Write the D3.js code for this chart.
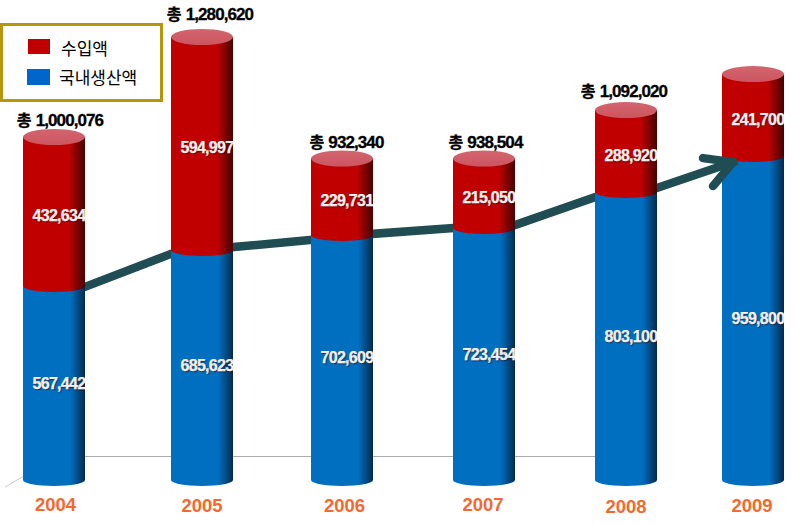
<!DOCTYPE html>
<html><head><meta charset="utf-8">
<style>html,body{margin:0;padding:0;background:#fff}svg{display:block}</style>
<script src="https://cdn.jsdelivr.net/npm/d3@7/dist/d3.min.js"></script></head>
<body><svg width="795" height="525"></svg>
<script>
const years = ["2004","2005","2006","2007","2008","2009"];
// Figures printed on the chart
const domesticLabels = [567442,685623,702609,723454,803100,959800];
const revenueLabels = [432634,594997,229731,215050,288920,241700];
const totalLabels = [1000076,1280620,932340,938504,1092020,null];
// The original columns are not quite to scale with their printed figures,
// so these are the heights, in the same units.
const domesticDrawn = [570600,676500,720600,741200,847000,953000];
const revenueDrawn = [438200,626400,225000,204400,241000,241000];
// Trend arrow: level leaving each column, level reaching the next
const trendFrom = [568000,685000,724000,750000,859000];
const trendTo = [665000,706000,741000,832000,935000];
const legendNames = ["수입액","국내생산액"];

const fmt = d3.format(",");
const svg = d3.select("svg");
const x = d3.scaleOrdinal().domain(years).range([54,202,342,484,626,753]);
const yearX = d3.scaleOrdinal().domain(years).range([55.5,202,344.5,483,626,752]);
const yearY = d3.scaleOrdinal().domain(years).range([511,512,512,511,513,512]);
const totalDx = d3.scaleOrdinal().domain(years).range([7,9,5.5,2.5,-1,0]);
const totalDy = d3.scaleOrdinal().domain(years).range([-11,-17,-10,-10,-13,0]);
const y = d3.scaleLinear().domain([0,1000000]).range([480,140]);
const W = 62, RT = 8, RB = 6;
const latin = "'Liberation Sans',Arial,sans-serif", cjk = "'Noto Sans CJK KR','Liberation Sans',sans-serif";

const defs = svg.append("defs");
function grad(id,c0,c1,o){
  const g = defs.append("linearGradient").attr("id",id);
  [[0,c0],[o,c0],[1,c1]].forEach(s=>g.append("stop").attr("offset",s[0]).attr("stop-color",s[1]));
}
grad("gb","#006FC0","#002A50",.76);
grad("gr","#C00000","#470000",.74);
const gt = defs.append("linearGradient").attr("id","gt").attr("x1",0).attr("x2",0).attr("y1",0).attr("y2",1);
gt.append("stop").attr("offset",0).attr("stop-color","#D2656E");
gt.append("stop").attr("offset",1).attr("stop-color","#CC5560");

// floor
svg.append("line").attr("x1",84).attr("x2",596).attr("y1",456.5).attr("y2",456.5).attr("stroke","#adadad");
svg.append("line").attr("x1",5).attr("y1",487).attr("x2",24).attr("y2",476).attr("stroke","#c8c8c8");

function body(g,cx,top,bot,fill){
  const l=cx-W/2,r=cx+W/2;
  g.append("path").attr("fill",fill)
   .attr("d",`M${l},${top}H${r}V${bot}A${W/2},${RB} 0 0 1 ${l},${bot}Z`);
}
function bar(i){
  const yr=years[i],cx=x(yr),g=svg.append("g");
  const b=y(0),m=y(domesticDrawn[i]),t=y(domesticDrawn[i]+revenueDrawn[i]);
  defs.append("clipPath").attr("id","c"+i).append("rect")
    .attr("x",cx-W/2).attr("y",0).attr("width",W).attr("height",525);
  body(g,cx,m-RT,b,"url(#gb)");
  body(g,cx,t,m,"url(#gr)");
  g.append("ellipse").attr("cx",cx).attr("cy",t).attr("rx",W/2).attr("ry",RT).attr("fill","url(#gt)");
  const lg=g.append("g").attr("clip-path",`url(#c${i})`);
  const lab=(v,yy)=>lg.append("text").attr("x",cx-W/2+9.5).attr("y",yy)
    .attr("font-family",latin).attr("font-weight","bold").attr("font-size",16).attr("fill","#fff")
    .attr("stroke","#fff").attr("stroke-width",0.25)
    .attr("letter-spacing",-0.7).style("text-shadow","1px 1px 1px rgba(50,0,0,.5)").text(fmt(v));
  lab(revenueLabels[i],(m+t)/2+9.5);
  lab(domesticLabels[i],(m+b)/2+6);
}
// 2009 lies under the arrow, the other columns over the line
bar(5);
const teal = "#204C54";
trendFrom.forEach((v,i)=>{
  const last = i===4;
  const x0 = x(years[i])+W/2, x1 = last ? x(years[5])-20 : x(years[i+1])-W/2;
  svg.append("path").attr("d",d3.line()([[x0,y(v)],[x1,y(trendTo[i])]]))
    .attr("fill","none").attr("stroke",teal).attr("stroke-width",8.5).attr("stroke-linecap","square");
});
{
  const tx = x(years[5])-20, ty = y(trendTo[4]);
  svg.append("path").attr("fill","none").attr("stroke",teal).attr("stroke-width",8.5)
    .attr("stroke-linecap","round").attr("stroke-linejoin","round")
    .attr("d",d3.line()([[tx-30,ty-4],[tx,ty],[tx-20,ty+24]]));
}
[0,1,2,3,4].forEach(bar);

// totals
years.forEach((yr,i)=>{
  if(totalLabels[i]===null) return;
  const t=y(domesticDrawn[i]+revenueDrawn[i])+totalDy(yr);
  const g=svg.append("text").attr("x",x(yr)+totalDx(yr)).attr("y",t).attr("text-anchor","middle").attr("fill","#000")
    .attr("font-size",17).attr("font-weight","bold").attr("font-family",latin).attr("letter-spacing",-0.9)
    .attr("stroke","#000").attr("stroke-width",0.3);
  g.append("tspan").attr("font-family",cjk).attr("font-size",16).attr("dx",-1).text("총");
  g.append("tspan").attr("dx",5).text(fmt(totalLabels[i]));
});

// years
svg.selectAll(".yr").data(years).join("text").attr("class","yr")
  .attr("x",d=>yearX(d)).attr("y",d=>yearY(d)).attr("text-anchor","middle")
  .attr("font-family",latin).attr("font-weight","bold").attr("font-size",18.5).attr("fill","#F4692E").text(d=>d);

// legend
svg.append("rect").attr("x",1.5).attr("y",24.5).attr("width",160).attr("height",76).attr("fill","#fff").attr("stroke","#B8960C").attr("stroke-width",3);
const cols=["#C00000","#0066CC"];
legendNames.forEach((n,i)=>{
  svg.append("rect").attr("x",28-i).attr("y",39+i*30).attr("width",22+i).attr("height",15+i).attr("fill",cols[i]);
  svg.append("text").attr("x",61-2*i).attr("y",[55,84][i]).attr("font-family",cjk).attr("font-size",17).attr("fill","#000").text(n);
});
</script></body></html>
